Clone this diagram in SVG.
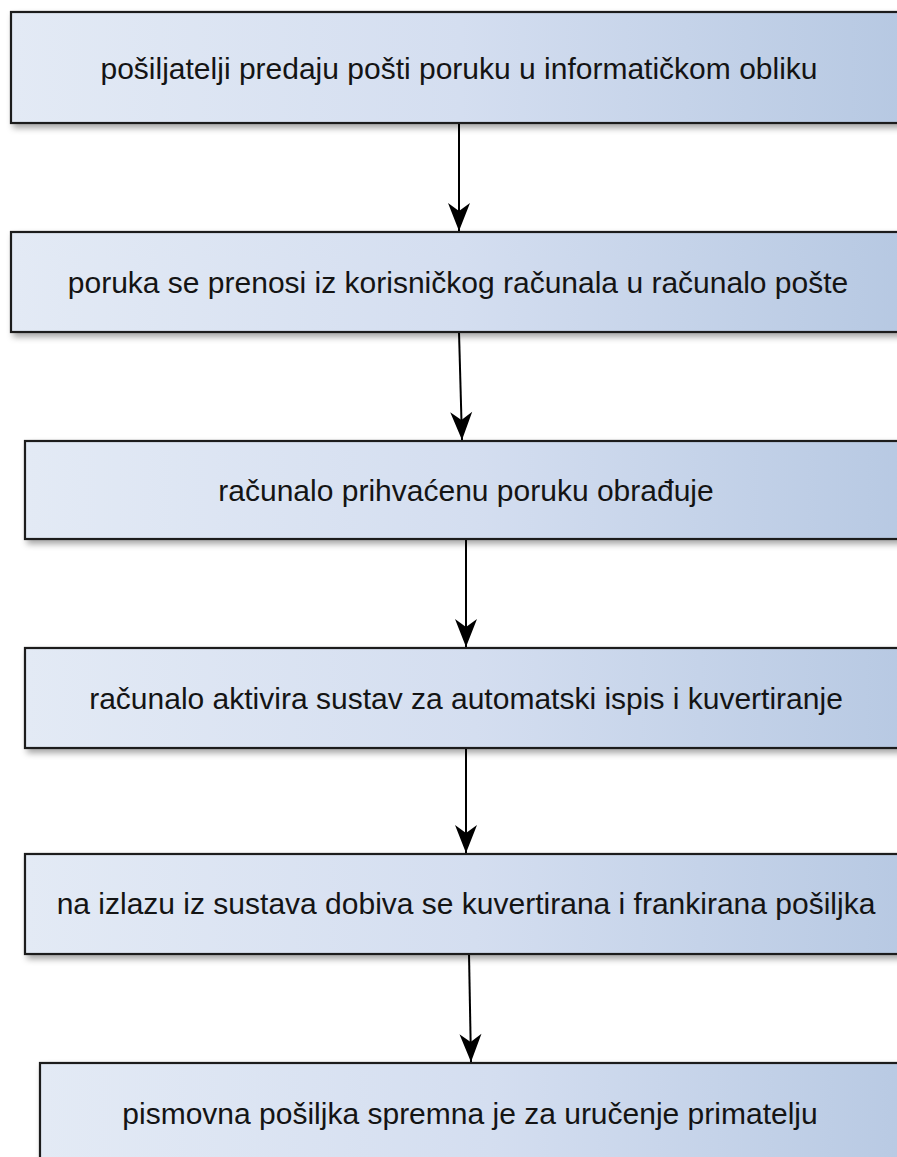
<svg xmlns="http://www.w3.org/2000/svg" width="897" height="1157" viewBox="0 0 897 1157">
<defs>
<linearGradient id="g" x1="0" y1="0" x2="1" y2="0">
<stop offset="0" stop-color="#e3eaf5"/>
<stop offset="0.5" stop-color="#d4def0"/>
<stop offset="1" stop-color="#b6c8e2"/>
</linearGradient>
<filter id="sh" x="-5%" y="-10%" width="115%" height="130%">
<feDropShadow dx="3" dy="4" stdDeviation="3" flood-color="#000" flood-opacity="0.35"/>
</filter>
<marker id="ah" markerUnits="userSpaceOnUse" viewBox="-30 -12 31 24" refX="0" refY="0" markerWidth="31" markerHeight="24" orient="auto">
<path d="M0,0 L-28,-11 L-20,0 L-28,11 Z" fill="#000"/>
</marker>
<style>
.box{fill:url(#g);stroke:#1e1e1e;stroke-width:2.2;filter:url(#sh)}
.t{font-family:"Liberation Sans",Arial,sans-serif;font-size:30px;fill:#141414;text-anchor:middle}
.c{stroke:#000;stroke-width:2;fill:none;marker-end:url(#ah)}
</style>
</defs>
<rect width="897" height="1157" fill="#fff"/>
<g id="connectors">
<path class="c" d="M459,123 L459,231"/>
<path class="c" d="M459,332 L462,440"/>
<path class="c" d="M466,539 L466,647"/>
<path class="c" d="M466,748 L466,853"/>
<path class="c" d="M469,954 L471,1062"/>
</g>
<g id="n1"><rect class="box" x="11" y="12" width="900" height="111"/><text class="t" x="459" y="79">pošiljatelji predaju pošti poruku u informatičkom obliku</text></g>
<g id="n2"><rect class="box" x="11" y="232" width="900" height="100"/><text class="t" x="458" y="293">poruka se prenosi iz korisničkog računala u računalo pošte</text></g>
<g id="n3"><rect class="box" x="25" y="441" width="900" height="98"/><text class="t" x="466" y="501">računalo prihvaćenu poruku obrađuje</text></g>
<g id="n4"><rect class="box" x="25" y="648" width="900" height="100"/><text class="t" x="466" y="709">računalo aktivira sustav za automatski ispis i kuvertiranje</text></g>
<g id="n5"><rect class="box" x="25" y="854" width="900" height="100"/><text class="t" x="466" y="914">na izlazu iz sustava dobiva se kuvertirana i frankirana pošiljka</text></g>
<g id="n6"><rect class="box" x="40" y="1063" width="900" height="120"/><text class="t" x="470" y="1124">pismovna pošiljka spremna je za uručenje primatelju</text></g>
</svg>
